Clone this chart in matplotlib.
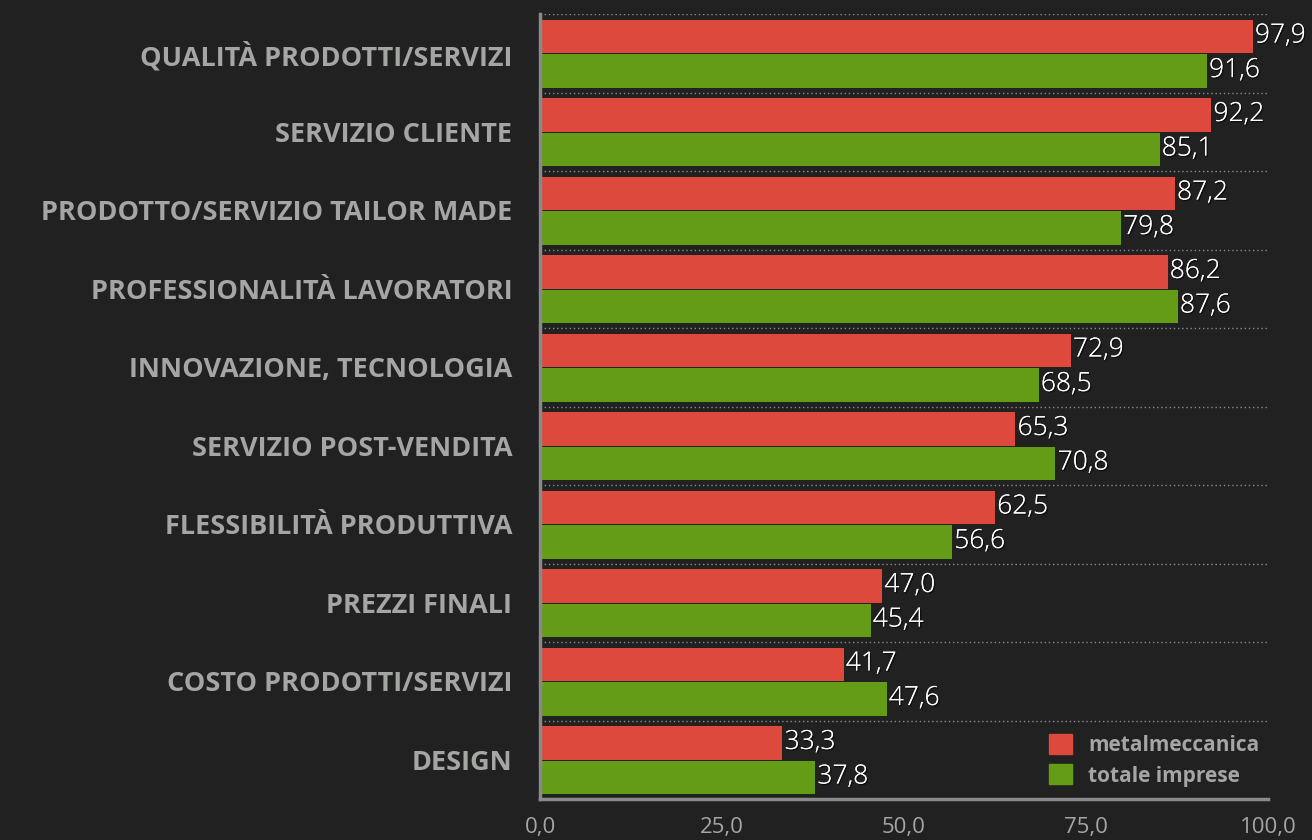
import numpy as np
import matplotlib.pyplot as plt
from matplotlib.patches import Patch
import matplotlib.patheffects as pe

categories = ["QUALITÀ PRODOTTI/SERVIZI", "SERVIZIO CLIENTE", "PRODOTTO/SERVIZIO TAILOR MADE",
              "PROFESSIONALITÀ LAVORATORI", "INNOVAZIONE, TECNOLOGIA", "SERVIZIO POST-VENDITA",
              "FLESSIBILITÀ PRODUTTIVA", "PREZZI FINALI", "COSTO PRODOTTI/SERVIZI", "DESIGN"]
metalmeccanica = [97.9, 92.2, 87.2, 86.2, 72.9, 65.3, 62.5, 47.0, 41.7, 33.3]
totale_imprese = [91.6, 85.1, 79.8, 87.6, 68.5, 70.8, 56.6, 45.4, 47.6, 37.8]
xticks = [0, 25, 50, 75, 100]

bg = "#212121"
red = "#dd4a3d"
green = "#649c17"
grey = "#a4a6a4"

plt.rcParams["font.family"] = ["Open Sans", "DejaVu Sans"]

fig = plt.figure(figsize=(13.12, 8.4), dpi=100, facecolor=bg)
ax = fig.add_axes([0.4116, 0.0488, 0.5549, 0.9345], facecolor=bg)

y = np.arange(len(categories))
h = 0.44
ax.barh(y - h / 2, metalmeccanica, height=h, color=red, edgecolor="#1a1a1a", linewidth=0.6)
ax.barh(y + h / 2, totale_imprese, height=h, color=green, edgecolor="#1a1a1a", linewidth=0.6)

shadow = [pe.withSimplePatchShadow(offset=(1, -1), shadow_rgbFace="black", alpha=0.6), pe.Normal()]
for yi, v in zip(y - h / 2, metalmeccanica):
    ax.text(v + 0.3, yi, f"{v:.1f}".replace(".", ","), va="center", ha="left",
            color="white", fontsize=19, fontweight="light", path_effects=shadow)
for yi, v in zip(y + h / 2, totale_imprese):
    ax.text(v + 0.3, yi, f"{v:.1f}".replace(".", ","), va="center", ha="left",
            color="white", fontsize=19, fontweight="light", path_effects=shadow)

for b in np.arange(len(categories) + 1) - 0.5:
    ax.axhline(b, color="#8a8a8a", linestyle=(0, (1, 2)), linewidth=1, zorder=0)

ax.set_xlim(0, 100)
ax.set_ylim(len(categories) - 0.5, -0.5)
ax.set_yticks(y)
ax.set_yticklabels(categories, color=grey, fontsize=19.5, fontweight="bold")
ax.set_xticks(xticks)
ax.set_xticklabels([f"{t:.1f}".replace(".", ",") for t in xticks], color=grey, fontsize=16)
ax.tick_params(axis="y", length=0, pad=20)
ax.tick_params(axis="x", length=0, pad=13)

for s in ["top", "right"]:
    ax.spines[s].set_visible(False)
for s in ["left", "bottom"]:
    ax.spines[s].set_color("#8a8a8a")
    ax.spines[s].set_linewidth(2.5)

handles = [Patch(color=red, label="metalmeccanica"), Patch(color=green, label="totale imprese")]
leg = ax.legend(handles=handles, loc="lower right", frameon=False, fontsize=15,
                handlelength=1.1, handleheight=1.1, handletextpad=0.8, labelspacing=0.4,
                bbox_to_anchor=(1.014, -0.008))
for t in leg.get_texts():
    t.set_color(grey)
    t.set_fontweight("bold")

fig.savefig("out.png", dpi=100, facecolor=bg)
